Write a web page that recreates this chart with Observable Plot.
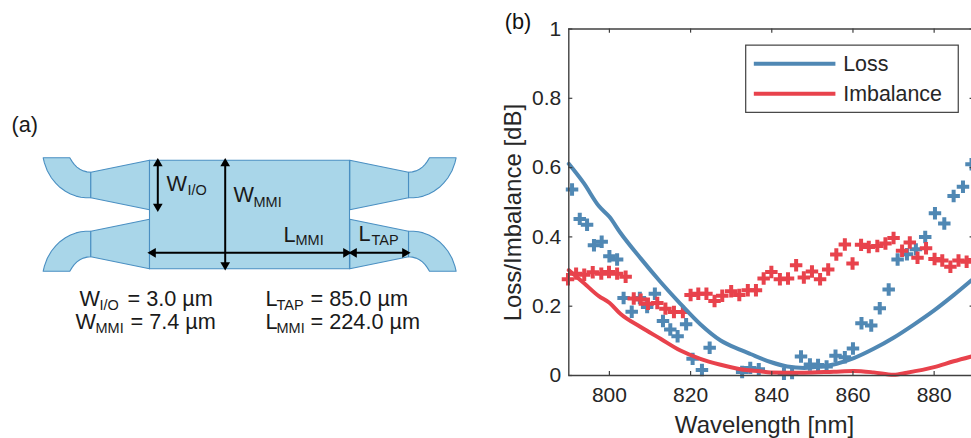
<!DOCTYPE html>
<html><head><meta charset="utf-8">
<script src="https://cdn.jsdelivr.net/npm/d3@7"></script>
<script src="https://cdn.jsdelivr.net/npm/@observablehq/plot@0.6"></script>
<style>
html,body{margin:0;padding:0;background:#fff}
#a,#b{position:absolute;top:0}
#a{left:0}#b{left:490px}
svg{display:block;background:transparent}
</style></head><body><div id="a"></div><div id="b"></div>
<script>
const FONT = '"Liberation Sans",Arial,sans-serif';
// ---------- panel (b) data ----------
const lossPointsW = [790.8,792.7,794.5,796.2,798.1,800,801.9,803.5,805.5,807.5,809.3,811.2,813.2,815,816.8,818.9,820.5,822.8,824.7,832.7,834.7,836.8,843,845,847.2,849.4,851.4,853.5,855.7,858,860,862.1,864.5,866.6,868.8,871,873.3,875.5,877.8,880.2,882.5,884.8,887.1,889.2];
const lossPointsV = [.537,.452,.435,.376,.386,.344,.335,.224,.184,.224,.198,.236,.157,.133,.113,.148,.048,.016,.08,.01,.022,.018,.005,.007,.055,.032,.03,.026,.057,.053,.078,.151,.144,.194,.248,.335,.35,.364,.40,.468,.439,.518,.545,.61];
const imbPointsW = [789.8,791.8,793.8,795.9,798,799.9,801.9,804,806,807.7,809.5,811.8,813.8,815.9,818.1,820,821.9,823.9,825.9,827.8,830,832,834.1,836.1,838,839.9,842,844,846,847.9,849.9,851.9,853.9,855.9,858,859.9,862,863.9,866,868,870,872.1,874,875.9,878,880.1,882,884,886,888,889.7];
const imbPointsV = [.278,.294,.291,.298,.294,.299,.294,.285,.222,.219,.207,.209,.193,.183,.183,.232,.236,.236,.215,.23,.243,.232,.246,.246,.28,.299,.278,.28,.318,.283,.30,.278,.306,.349,.378,.323,.377,.371,.374,.381,.397,.36,.384,.34,.367,.336,.332,.314,.332,.328,.333];
const lossLineW = [790,793.7,797.4,800,802.7,807.7,812.6,817.5,822.4,827.4,832.3,834.75,839.7,843.8,848,852,856,860.2,865.1,870,875,880,884.8,889.2];
const lossLineV = [.611,.555,.489,.458,.412,.338,.27,.207,.148,.101,.074,.062,.039,.026,.022,.026,.034,.05,.077,.109,.147,.188,.232,.275];
const imbLineW = [790,793.7,797.4,800,802.7,807.7,812.6,817.5,822.4,827.4,832.3,837.2,839.7,848,855.3,860.2,865.1,870,873.3,880,884.8,889.2];
const imbLineV = [.304,.267,.229,.21,.178,.14,.106,.072,.048,.031,.018,.012,.009,.008,.011,.013,.009,.002,.008,.024,.041,.055];
const xTicks = [800,820,840,860,880];
const yTicks = [0,.2,.4,.6,.8,1];
const BLUE = "#5088b4", RED = "#e8424c", INK = "#404040", TXT = "#262626";
const zip = (w,v) => w.map((x,i)=>({x,y:v[i]}));

const plusOpts = c => ({x:"x",y:"y",symbol:"plus",r:4.1,stroke:c,strokeWidth:4});
const lineOpts = c => ({x:"x",y:"y",stroke:c,strokeWidth:4,curve:"monotone-x"});

document.getElementById("b").append(Plot.plot({
  width:481,height:438,marginLeft:78.3,marginRight:0,marginTop:28.5,marginBottom:63,
  style:{fontFamily:FONT,background:"transparent"},
  x:{domain:[790,889.2],ticks:xTicks,label:null},
  y:{domain:[0,1],label:null},
  marks:[
    Plot.dot(zip(lossPointsW,lossPointsV),plusOpts(BLUE)),
    Plot.dot(zip(imbPointsW,imbPointsV),plusOpts(RED)),
    Plot.line(zip(lossLineW,lossLineV),lineOpts(BLUE)),
    Plot.line(zip(imbLineW,imbLineV),lineOpts(RED)),
    Plot.ruleY([0,1],{stroke:INK,strokeWidth:1.4}),
    Plot.ruleX([790],{y1:0,y2:1,stroke:INK,strokeWidth:1.4}),
    Plot.ruleX(xTicks,{y1:1,y2:.988,stroke:INK,strokeWidth:1.2}),
    Plot.ruleY(yTicks,{x1:888.85,x2:889.2,stroke:INK,strokeWidth:1.2}),
    Plot.axisX({ticks:xTicks,tickSize:-4,tickPadding:16,stroke:INK,strokeWidth:1.2,color:TXT,fontSize:21,label:null,tickFormat:d=>String(d)}),
    Plot.axisY({ticks:yTicks,tickSize:-4,tickPadding:11.5,stroke:INK,strokeWidth:1.2,color:TXT,fontSize:21,label:null,tickFormat:d=>String(d)}),
    // legend
    Plot.rect([{}],{x1:()=>833.7,x2:()=>886.06,y1:()=>.758,y2:()=>.952,fill:"white",stroke:INK,strokeWidth:1.2}),
    Plot.ruleY([.9],{x1:835.7,x2:855.8,stroke:BLUE,strokeWidth:4}),
    Plot.ruleY([.813],{x1:835.7,x2:855.8,stroke:RED,strokeWidth:4}),
    Plot.text(["Loss"],{x:857.6,y:.9,text:d=>d,textAnchor:"start",fontSize:21.4,fill:TXT}),
    Plot.text(["Imbalance"],{x:857.6,y:.813,text:d=>d,textAnchor:"start",fontSize:21.4,fill:TXT}),
    // axis titles and panel letter
    Plot.text(["Wavelength [nm]"],{x:838.2,y:-.165,text:d=>d,fontSize:24,fill:TXT,lineAnchor:"bottom"}),
    Plot.text(["Loss/Imbalance [dB]"],{x:776.35,y:.47,rotate:-90,text:d=>d,fontSize:24,fill:TXT}),
    Plot.text(["(b)"],{x:774.2,y:1.0014,text:d=>d,fontSize:21.7,fill:"#111",textAnchor:"start",lineAnchor:"bottom"})
  ]
}));

// ---------- panel (a) schematic (outline of the top-left quarter, mirrored) ----------
const bend = [[90.3,171.7],[86.5,171.4],[82.9,170.4],[79.4,168.8],[76.4,166.6],[73.7,163.9],[71.5,160.9],[69.3,157.3],[42.7,157.3],[43.9,162.4],[46.8,170.3],[51,177.5],[55.2,182.7],[59.4,186.8],[64.9,190.7],[70,193.5],[75.5,195.6],[80.3,196.7],[85.3,197.2],[90.3,197.3],[90.3,171.7]];
const taper = [[90.3,171.7],[149,159.7],[149,209.3],[90.3,197.3],[90.3,171.7]];
const mmi = [[149,159.7],[349,159.7],[349,268.3],[149,268.3],[149,159.7]];
const MX = 498.3, MY = 428;
const variants = [[0,0],[1,0],[0,1],[1,1]];
const flip = (pts,[fx,fy]) => pts.map(([x,y])=>({x:fx?MX-x:x,y:fy?MY-y:y}));
const FILL="#a9d6e9", EDGE="#4a8fc2";
const shapeMarks = [];
for (const v of variants) {
  shapeMarks.push(Plot.line(flip(bend,v),{x:"x",y:"y",fill:FILL,stroke:EDGE,strokeWidth:1.1}));
  shapeMarks.push(Plot.line(flip(taper,v),{x:"x",y:"y",fill:FILL,stroke:EDGE,strokeWidth:1.1}));
}
shapeMarks.push(Plot.line(flip(mmi,[0,0]),{x:"x",y:"y",fill:FILL,stroke:EDGE,strokeWidth:1.1}));

const arrows = [
  {x1:157.3,y1:164,x2:157.3,y2:205},
  {x1:224.7,y1:163,x2:224.7,y2:264},
  {x1:153,y1:252.3,x2:345,y2:252.3},
  {x1:354,y1:252.3,x2:404,y2:252.3}
];
const heads = [
  {x:157.3,y:163,a:0},{x:157.3,y:206,a:180},
  {x:224.7,y:163,a:0},{x:224.7,y:264.5,a:180},
  {x:152.5,y:252.3,a:-90},{x:345.5,y:252.3,a:90},
  {x:353.5,y:252.3,a:-90},{x:404.5,y:252.3,a:90}
];
const big = [
  {t:"(a)",x:11,y:131},
  {t:"W",x:166,y:190},{t:"W",x:233,y:201.5},{t:"L",x:283,y:241.5},{t:"L",x:358,y:240},
  {t:"W",x:79,y:305},{t:"= 3.0 µm",x:127,y:305},
  {t:"W",x:75,y:328.3},{t:"= 7.4 µm",x:130,y:328.3},
  {t:"L",x:265,y:305},{t:"= 85.0 µm",x:310,y:305},
  {t:"L",x:265,y:328.3},{t:"= 224.0 µm",x:310,y:328.3}
];
const small = [
  {t:"I/O",x:187,y:194},{t:"MMI",x:253,y:206},{t:"MMI",x:295,y:244.5},{t:"TAP",x:371,y:244},
  {t:"I/O",x:99,y:309},{t:"MMI",x:95,y:332.5},{t:"TAP",x:276,y:309},{t:"MMI",x:276,y:332.5}
];
document.getElementById("a").append(Plot.plot({
  width:490,height:438,margin:0,axis:null,
  style:{fontFamily:FONT,background:"transparent"},
  x:{type:"identity"},y:{type:"identity"},
  marks:[
    ...shapeMarks,
    Plot.link(arrows,{x1:"x1",y1:"y1",x2:"x2",y2:"y2",stroke:"#000",strokeWidth:2}),
    Plot.dot(heads,{x:"x",y:"y",rotate:"a",symbol:"triangle",r:3.6,fill:"#000",stroke:"none"}),
    Plot.text(big,{x:"x",y:"y",text:"t",textAnchor:"start",lineAnchor:"bottom",fontSize:21.7,fill:"#1a1a1a"}),
    Plot.text(small,{x:"x",y:"y",text:"t",textAnchor:"start",lineAnchor:"bottom",fontSize:14.5,fill:"#1a1a1a"})
  ]
}));
</script></body></html>
